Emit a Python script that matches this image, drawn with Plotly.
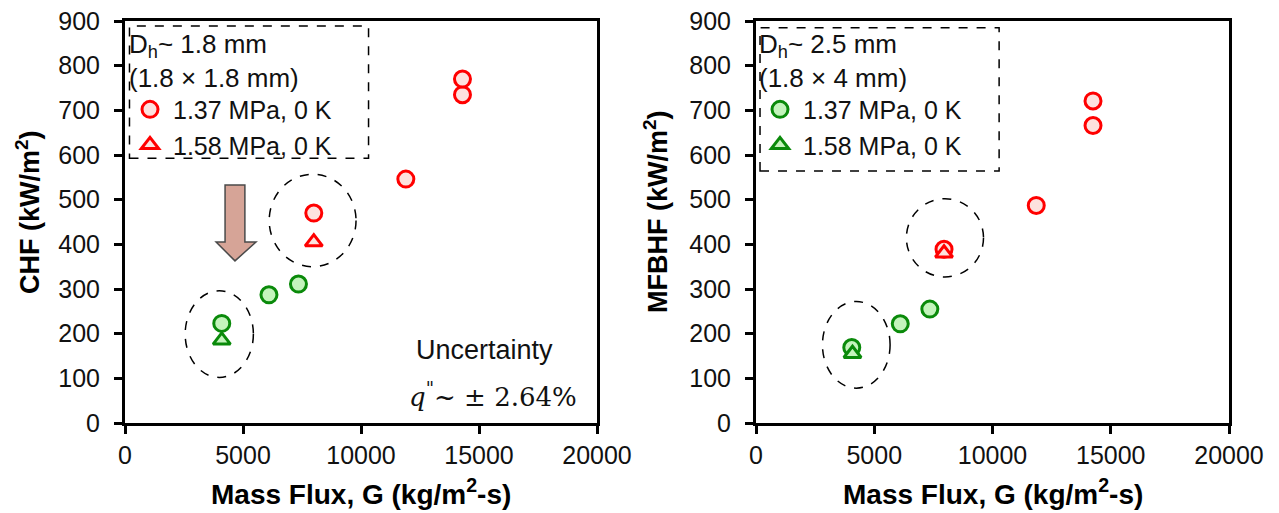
import plotly.graph_objects as go

# ---- data: CHF (left panel, Dh ~ 1.8 mm) ----
chf_g_red_circ = [8000, 11900, 14300, 14300]
chf_q_red_circ = [470, 546, 735, 770]
chf_g_red_tri = [8000]
chf_q_red_tri = [405]
chf_g_grn_circ = [4100, 6100, 7350]
chf_q_grn_circ = [223, 287, 311]
chf_g_grn_tri = [4100]
chf_q_grn_tri = [185]

# ---- data: MFBHF (right panel, Dh ~ 2.5 mm) ----
mf_g_red_circ = [7950, 11850, 14250, 14250]
mf_q_red_circ = [389, 487, 666, 721]
mf_g_red_tri = [7950]
mf_q_red_tri = [380]
mf_g_grn_circ = [4050, 6100, 7350]
mf_q_grn_circ = [169, 222, 255]
mf_g_grn_tri = [4080]
mf_q_grn_tri = [155]

x_ticks = [0, 5000, 10000, 15000, 20000]
x_tick_text = ["0", "5000", "10000", "15000", "20000"]
y_ticks = list(range(0, 1000, 100))

RED, RED_FILL = "#ff0000", "#fde2de"
GRN, GRN_FILL = "#0a8a0a", "#c4f4bc"
FONT = "Liberation Sans, Arial, sans-serif"
INK = "#111"

fig = go.Figure()


def add_pts(x, y, sym, edge, fill, xa, ya, name, legend, show):
    fig.add_trace(go.Scatter(
        x=x, y=y, mode="markers", name=name, xaxis=xa, yaxis=ya,
        legend=legend, showlegend=show,
        marker=dict(symbol=sym, size=16 if sym == "circle" else 15,
                    color=fill, line=dict(color=edge, width=3)),
    ))


# left panel
add_pts(chf_g_red_circ, chf_q_red_circ, "circle", RED, RED_FILL, "x", "y", "1.37 MPa, 0 K", "legend", True)
add_pts(chf_g_red_tri, chf_q_red_tri, "triangle-up", RED, RED_FILL, "x", "y", "1.58 MPa, 0 K", "legend", True)
add_pts(chf_g_grn_circ, chf_q_grn_circ, "circle", GRN, GRN_FILL, "x", "y", "1.37 MPa, 0 K", "legend", False)
add_pts(chf_g_grn_tri, chf_q_grn_tri, "triangle-up", GRN, GRN_FILL, "x", "y", "1.58 MPa, 0 K", "legend", False)

# right panel
add_pts(mf_g_grn_circ, mf_q_grn_circ, "circle", GRN, GRN_FILL, "x2", "y2", "1.37 MPa, 0 K", "legend2", True)
add_pts(mf_g_grn_tri, mf_q_grn_tri, "triangle-up", GRN, GRN_FILL, "x2", "y2", "1.58 MPa, 0 K", "legend2", True)
add_pts(mf_g_red_circ, mf_q_red_circ, "circle", RED, RED_FILL, "x2", "y2", "1.37 MPa, 0 K", "legend2", False)
add_pts(mf_g_red_tri, mf_q_red_tri, "triangle-up", RED, RED_FILL, "x2", "y2", "1.58 MPa, 0 K", "legend2", False)

axis_common = dict(
    showgrid=False, zeroline=False, showline=True, linewidth=3, linecolor="black",
    mirror=True, ticks="outside", ticklen=8, tickwidth=2.5, tickcolor="black",
    tickfont=dict(family=FONT, size=25, color=INK), automargin=False,
)
xa = dict(axis_common, range=[0, 20000], tickvals=x_ticks, ticktext=x_tick_text, ticklabelstandoff=0)
ya = dict(axis_common, range=[0, 900], tickvals=y_ticks, ticklabelstandoff=9)

W, H = 1279, 513
L1, R1 = 125 / W, 597 / W
L2, R2 = 756 / W, 1229 / W
B, T = 1 - 423 / H, 1 - 21 / H

dash = dict(color="black", width=1.5, dash="dash")
box = dict(color="black", width=1.5, dash="dash")
shapes = [
    # legend frames
    dict(type="rect", xref="x", yref="y", x0=190, x1=10320, y0=593, y1=889, line=box),
    dict(type="rect", xref="x2", yref="y2", x0=170, x1=10280, y0=564, y1=885, line=box),
    # ellipses grouping repeated conditions
    dict(type="circle", xref="x", yref="y", x0=2550, x1=5440, y0=102, y1=296, line=dash),
    dict(type="circle", xref="x", yref="y", x0=6110, x1=9790, y0=350, y1=557, line=dash),
    dict(type="circle", xref="x2", yref="y2", x0=2810, x1=5670, y0=78, y1=272, line=dash),
    dict(type="circle", xref="x2", yref="y2", x0=6360, x1=9620, y0=327, y1=502, line=dash),
    # downward arrow
    dict(type="path", xref="x", yref="y",
         path="M 4240 533 L 5080 533 L 5080 405 L 5550 405 L 4660 363 L 3860 405 L 4240 405 Z",
         fillcolor="#d6a497", line=dict(color="#4a4a4a", width=1.5)),
]

title_font = dict(family=FONT, size=27, color="black")
xtitle_font = dict(family=FONT, size=28, color="black")
annotations = [
    dict(text="<b>CHF (kW/m<sup>2</sup>)</b>", x=28 / W, y=1 - 212 / H, xref="paper", yref="paper",
         xanchor="center", yanchor="middle", textangle=-90, showarrow=False, font=title_font),
    dict(text="<b>MFBHF (kW/m<sup>2</sup>)</b>", x=656 / W, y=1 - 212 / H, xref="paper", yref="paper",
         xanchor="center", yanchor="middle", textangle=-90, showarrow=False, font=title_font),
    dict(text="<b>Mass Flux, G (kg/m<sup>2</sup>-s)</b>", x=(L1 + R1) / 2, y=1 - 492 / H, xref="paper", yref="paper",
         xanchor="center", yanchor="middle", showarrow=False, font=xtitle_font),
    dict(text="<b>Mass Flux, G (kg/m<sup>2</sup>-s)</b>", x=(L2 + R2) / 2, y=1 - 492 / H, xref="paper", yref="paper",
         xanchor="center", yanchor="middle", showarrow=False, font=xtitle_font),
    dict(text="Uncertainty", x=12250, y=163, xref="x", yref="y", xanchor="left", yanchor="middle",
         showarrow=False, font=dict(family=FONT, size=27, color=INK)),
    dict(text="<i>q</i><sup>\"</sup>~ ± 2.64%", x=11950, y=63, xref="x", yref="y", xanchor="left",
         yanchor="middle", showarrow=False,
         font=dict(family="DejaVu Serif, Liberation Serif, serif", size=26, color=INK)),
]

leg_common = dict(
    xanchor="left", yanchor="top", bgcolor="rgba(0,0,0,0)", borderwidth=0,
    font=dict(family=FONT, size=25, color=INK), tracegroupgap=0, itemwidth=36,
)
leg_title_font = dict(family=FONT, size=26, color=INK)
fig.update_layout(
    width=W, height=H, margin=dict(l=0, r=0, t=0, b=0),
    paper_bgcolor="white", plot_bgcolor="white",
    xaxis=dict(xa, domain=[L1, R1], anchor="y"),
    yaxis=dict(ya, domain=[B, T], anchor="x"),
    xaxis2=dict(xa, domain=[L2, R2], anchor="y2"),
    yaxis2=dict(ya, domain=[B, T], anchor="x2"),
    legend=dict(leg_common, x=127 / W, y=1 - 19 / H,
                title=dict(text="D<sub>h</sub>~ 1.8 mm<br>(1.8 × 1.8 mm)", font=leg_title_font)),
    legend2=dict(leg_common, x=757 / W, y=1 - 19 / H,
                 title=dict(text="D<sub>h</sub>~ 2.5 mm<br>(1.8 × 4 mm)", font=leg_title_font)),
    shapes=shapes, annotations=annotations,
)

fig.write_html("out.html")
